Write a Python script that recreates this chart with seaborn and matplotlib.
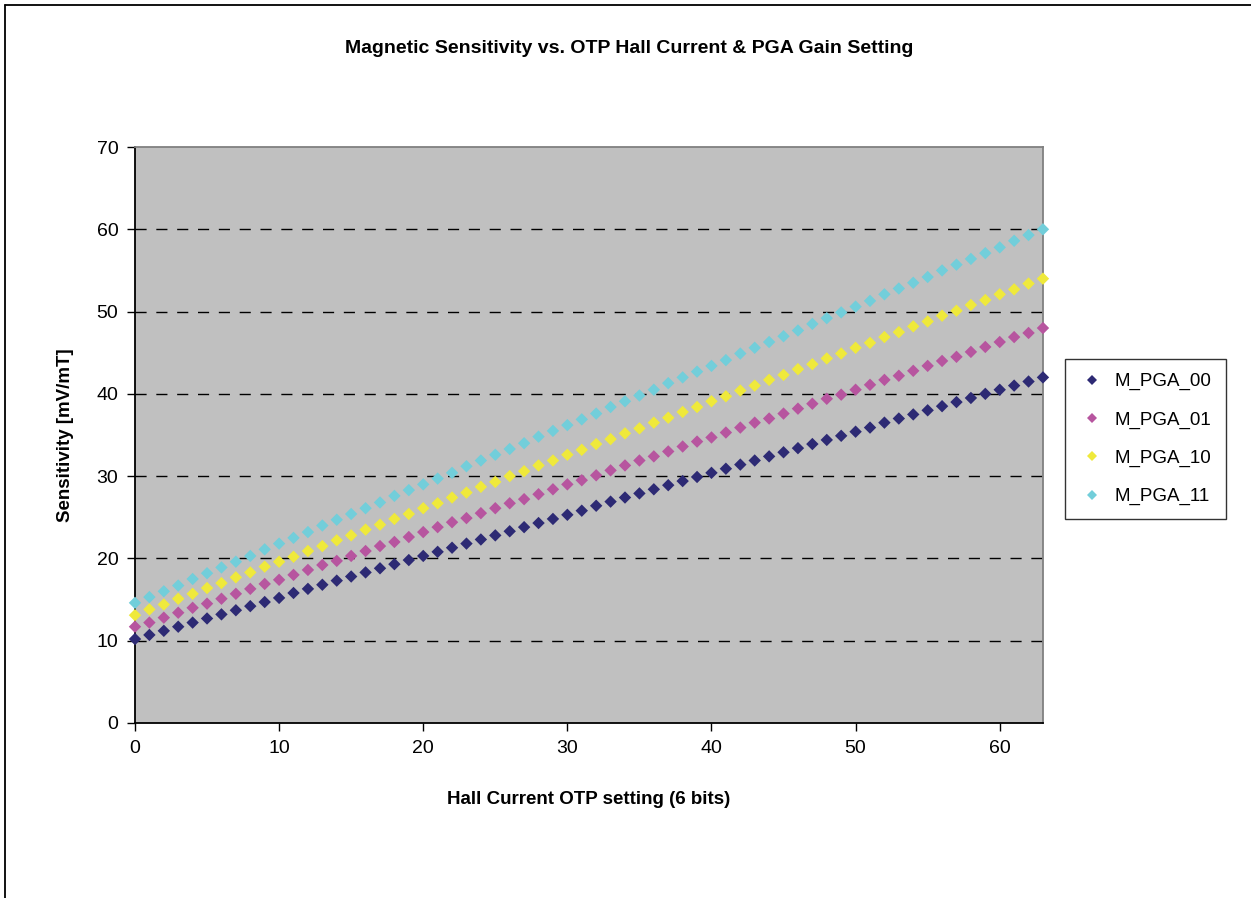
import pandas as pd
import matplotlib
matplotlib.use("Agg")
import matplotlib.pyplot as plt
import seaborn as sns
from matplotlib.lines import Line2D

# Hall current OTP setting (6 bits)
otp = list(range(64))

m_pga_00 = [10.2, 10.7, 11.2, 11.7, 12.2, 12.7, 13.2, 13.7, 14.2, 14.7,
            15.2, 15.8, 16.3, 16.8, 17.3, 17.8, 18.3, 18.8, 19.3, 19.8,
            20.3, 20.8, 21.3, 21.8, 22.3, 22.8, 23.3, 23.8, 24.3, 24.8,
            25.3, 25.8, 26.4, 26.9, 27.4, 27.9, 28.4, 28.9, 29.4, 29.9,
            30.4, 30.9, 31.4, 31.9, 32.4, 32.9, 33.4, 33.9, 34.4, 34.9,
            35.4, 35.9, 36.5, 37.0, 37.5, 38.0, 38.5, 39.0, 39.5, 40.0,
            40.5, 41.0, 41.5, 42.0]
m_pga_01 = [11.7, 12.2, 12.8, 13.4, 14.0, 14.5, 15.1, 15.7, 16.3, 16.9,
            17.4, 18.0, 18.6, 19.2, 19.7, 20.3, 20.9, 21.5, 22.0, 22.6,
            23.2, 23.8, 24.4, 24.9, 25.5, 26.1, 26.7, 27.2, 27.8, 28.4,
            29.0, 29.5, 30.1, 30.7, 31.3, 31.9, 32.4, 33.0, 33.6, 34.2,
            34.7, 35.3, 35.9, 36.5, 37.0, 37.6, 38.2, 38.8, 39.4, 39.9,
            40.5, 41.1, 41.7, 42.2, 42.8, 43.4, 44.0, 44.5, 45.1, 45.7,
            46.3, 46.9, 47.4, 48.0]
m_pga_10 = [13.1, 13.8, 14.4, 15.1, 15.7, 16.4, 17.0, 17.7, 18.3, 19.0,
            19.6, 20.2, 20.9, 21.5, 22.2, 22.8, 23.5, 24.1, 24.8, 25.4,
            26.1, 26.7, 27.4, 28.0, 28.7, 29.3, 30.0, 30.6, 31.3, 31.9,
            32.6, 33.2, 33.9, 34.5, 35.2, 35.8, 36.5, 37.1, 37.8, 38.4,
            39.1, 39.7, 40.4, 41.0, 41.7, 42.3, 43.0, 43.6, 44.3, 44.9,
            45.6, 46.2, 46.9, 47.5, 48.2, 48.8, 49.5, 50.1, 50.8, 51.4,
            52.1, 52.7, 53.4, 54.0]
m_pga_11 = [14.6, 15.3, 16.0, 16.7, 17.5, 18.2, 18.9, 19.6, 20.3, 21.1,
            21.8, 22.5, 23.2, 24.0, 24.7, 25.4, 26.1, 26.8, 27.6, 28.3,
            29.0, 29.7, 30.4, 31.2, 31.9, 32.6, 33.3, 34.0, 34.8, 35.5,
            36.2, 36.9, 37.6, 38.4, 39.1, 39.8, 40.5, 41.3, 42.0, 42.7,
            43.4, 44.1, 44.9, 45.6, 46.3, 47.0, 47.7, 48.5, 49.2, 49.9,
            50.6, 51.3, 52.1, 52.8, 53.5, 54.2, 55.0, 55.7, 56.4, 57.1,
            57.8, 58.6, 59.3, 60.0]

series_names = ["M_PGA_00", "M_PGA_01", "M_PGA_10", "M_PGA_11"]
colors = ["#2D2A74", "#B7559F", "#EFE93B", "#72CEDA"]

df = pd.concat([
    pd.DataFrame({"otp": otp, "sens": vals, "series": name})
    for name, vals in zip(series_names, [m_pga_00, m_pga_01, m_pga_10, m_pga_11])
])

sns.set_theme(style="white")
plt.rcParams["font.family"] = ["Liberation Sans", "DejaVu Sans"]
plt.rcParams["text.color"] = "black"
plt.rcParams["axes.labelcolor"] = "black"
plt.rcParams["xtick.color"] = "black"
plt.rcParams["ytick.color"] = "black"

fig = plt.figure(figsize=(12.51, 8.98), dpi=100)
ax = fig.add_axes([0.1079, 0.1949, 0.7258, 0.6414])
ax.set_facecolor("#C0C0C0")

sns.scatterplot(data=df, x="otp", y="sens", hue="series", palette=colors,
                marker="D", s=40, linewidth=0, ax=ax, zorder=3, clip_on=False)

ax.set_xlim(0, 63)
ax.set_ylim(0, 70)
ax.set_xticks(range(0, 61, 10))
ax.set_yticks(range(0, 71, 10))
for y in range(10, 61, 10):
    ax.axhline(y, color="black", lw=1, ls=(0, (8, 7)), zorder=1)

ax.tick_params(axis="both", direction="out", length=6, width=1, color="black",
               labelsize=14, pad=6, bottom=True, left=True)
for side in ["left", "bottom"]:
    ax.spines[side].set_color("black")
    ax.spines[side].set_linewidth(1.3)
for side in ["top", "right"]:
    ax.spines[side].set_color("#808080")
    ax.spines[side].set_linewidth(1.3)

ax.set_xlabel("Hall Current OTP setting (6 bits)", fontsize=13.5, fontweight="bold", labelpad=25)
ax.set_ylabel("Sensitivity [mV/mT]", fontsize=13.5, fontweight="bold", labelpad=16)
fig.text(0.503, 0.946, "Magnetic Sensitivity vs. OTP Hall Current & PGA Gain Setting",
         ha="center", va="center", fontsize=14, fontweight="bold")

leg = ax.legend(loc="upper left", bbox_to_anchor=(1065 / 1251, 1 - 359 / 898),
                bbox_transform=fig.transFigure, frameon=True, fancybox=False,
                edgecolor="black", fontsize=13.5, handletextpad=0.5,
                labelspacing=1.12, borderpad=0.75, borderaxespad=0,
                markerscale=0.75, handlelength=1.4)
leg.get_frame().set_linewidth(1.0)

# outer chart-area border (left and top visible)
fig.add_artist(Line2D([5 / 1251, 5 / 1251], [0, 1 - 5 / 898], color="black", lw=1.3))
fig.add_artist(Line2D([5 / 1251, 1], [1 - 5 / 898, 1 - 5 / 898], color="black", lw=1.3))

fig.savefig("out.png", dpi=100, facecolor="white")
